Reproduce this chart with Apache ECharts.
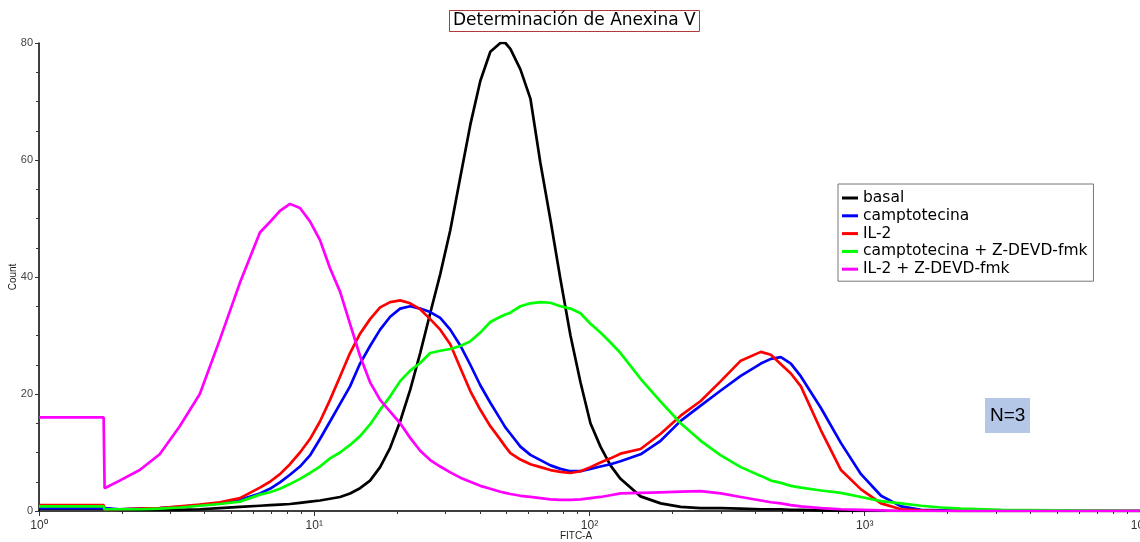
<!DOCTYPE html>
<html><head><meta charset="utf-8">
<script src="https://cdn.jsdelivr.net/npm/echarts@6/dist/echarts.min.js"></script>
<style>html,body{margin:0;padding:0;background:#fff}#c{width:1140px;height:542px}</style>
</head><body><div id="c"></div>
<script>
// FITC-A channel positions (shared sample grid)
const fitc = [1, 1.29, 1.717, 1.731, 1.963, 2.322, 2.745, 3.246, 3.839, 4.539, 5.368,
  6.347, 6.902, 7.505, 8.161, 8.874, 9.65, 10.49, 11.41, 12.41, 13.49,
  14.67, 15.95, 17.35, 18.87, 20.51, 22.31, 24.26, 26.38, 28.69, 31.2,
  33.92, 36.89, 40.11, 43.62, 47.44, 49.47, 51.59,
  56.1, 61.0, 66.32, 72.12, 78.42, 85.28, 92.73, 100.8, 109.6, 119.2, 129.6,
  153.3, 181.3, 214.4, 253.5, 299.9, 354.5, 419.3,
  456.0, 495.8, 539.0, 586.1,
  693.1, 819.7, 969.2, 1146, 1355, 1602, 1895, 2240, 3133, 10000];

const basal = [0.4, 0.4, 0.4, 0.2, 0.2, 0.2, 0.2, 0.2, 0.3, 0.5, 0.7,
  0.9, 1.0, 1.1, 1.2, 1.4, 1.6, 1.8, 2.1, 2.4, 3.0,
  3.9, 5.2, 7.5, 10.8, 15.3, 20.7, 27, 33.8, 40.5, 48,
  57, 66, 73.5, 78.5, 80, 80, 79,
  75.5, 70.5, 59.5, 49.8, 39.6, 30, 22, 15, 11, 7.8, 5.5,
  2.5, 1.3, 0.7, 0.5, 0.5, 0.4, 0.3,
  0.3, 0.3, 0.2, 0.2,
  0.1, 0, 0, 0, 0, 0, 0, 0, 0, 0];

const camptotecina = [0.5, 0.5, 0.5, 0.3, 0.3, 0.4, 0.5, 0.7, 1.0, 1.3, 1.9,
  3.0, 3.8, 4.9, 6.2, 7.6, 9.5, 12.3, 15.3, 18.3, 21.3,
  25.2, 28.2, 31, 33.2, 34.6, 35, 34.6, 34, 33, 31,
  28.3, 25, 21.5, 18.5, 15.7, 14.3, 13.2,
  11, 9.6, 8.7, 7.8, 7.2, 6.8, 6.8, 7.2, 7.6, 8.0, 8.5,
  9.7, 12.0, 15.4, 18, 20.6, 23.1, 25.2,
  26, 26.3, 25.2, 23,
  17.6, 11.6, 6.3, 2.6, 0.8, 0.2, 0.1, 0, 0, 0];

const il2 = [1.0, 1.0, 1.0, 0.3, 0.3, 0.4, 0.5, 0.8, 1.1, 1.5, 2.2,
  4.0, 5.0, 6.3, 8.0, 10.0, 12.3, 15.3, 19, 23, 27,
  30.3, 32.8, 34.8, 35.7, 36, 35.5, 34.5, 32.8, 31, 28.5,
  24.5, 20.5, 17.3, 14.5, 12.2, 11, 9.9,
  8.8, 8, 7.5, 7.0, 6.7, 6.5, 6.8, 7.5, 8.3, 9.0, 9.8,
  10.6, 13.2, 16.3, 18.8, 22.2, 25.7, 27.2,
  26.7, 25.1, 23.5, 21.3,
  13.8, 7, 3.7, 1.3, 0.3, 0.1, 0, 0, 0, 0];

const camptoZdevd = [0.8, 0.8, 0.8, 0.3, 0.3, 0.3, 0.4, 0.6, 0.9, 1.2, 1.6,
  2.8, 3.2, 3.8, 4.6, 5.5, 6.5, 7.6, 9.0, 10.0, 11.3,
  12.8, 14.8, 17.3, 19.6, 22.2, 24, 25.3, 27, 27.4, 27.7,
  28.2, 29, 30.5, 32.3, 33.2, 33.6, 33.9,
  35, 35.5, 35.7, 35.6, 35, 34.6, 33.8, 32, 30.5, 28.8, 27,
  22.6, 18.7, 15, 12, 9.5, 7.5, 6,
  5.2, 4.8, 4.3, 4.0,
  3.5, 3.1, 2.4, 1.7, 1.3, 0.9, 0.6, 0.4, 0.2, 0];

const il2Zdevd = [16, 16, 16, 3.9, 5.2, 7.0, 9.7, 14.5, 20, 29.3, 39,
  47.6, 49.4, 51.3, 52.5, 51.8, 49.5, 46.3, 41.5, 37.5, 32,
  26.5, 22, 19, 17, 15, 12.5, 10.3, 8.7, 7.6, 6.6,
  5.7, 5.0, 4.3, 3.8, 3.3, 3.1, 2.9,
  2.6, 2.4, 2.2, 2.0, 1.9, 1.9, 2.0, 2.2, 2.4, 2.7, 3.0,
  3.1, 3.2, 3.3, 3.4, 3.0, 2.4, 1.8,
  1.5, 1.3, 1.0, 0.8,
  0.5, 0.3, 0.2, 0.1, 0, 0, 0, 0, 0, 0];

const seriesNames = ['basal', 'camptotecina', 'IL-2', 'camptotecina + Z-DEVD-fmk', 'IL-2 + Z-DEVD-fmk'];
const seriesColors = ['#000000', '#0000ff', '#ff0000', '#00ff00', '#ff00ff'];
const seriesValues = [basal, camptotecina, il2, camptoZdevd, il2Zdevd];
const xMajorTicks = [1, 10, 100, 1000, 10000];
const xMinorTicks = [];
xMajorTicks.slice(0, 4).forEach(d => { for (let k = 2; k <= 9; k++) xMinorTicks.push(k * d); });
const supDigits = ['⁰', '¹', '²', '³', '⁴'];

const chart = echarts.init(document.getElementById('c'), null, {renderer: 'canvas'});
chart.setOption({
  animation: false,
  backgroundColor: '#fff',
  title: {
    text: 'Determinación de Anexina V',
    left: 449, top: 10,
    borderColor: '#b03a3a', borderWidth: 1,
    padding: [2, 4, 3, 4],
    textStyle: {fontFamily: 'DejaVu Sans', fontSize: 17, fontWeight: 'normal', color: '#000'}
  },
  legend: {
    orient: 'vertical', left: 838, top: 184,
    borderColor: '#777', borderWidth: 1,
    padding: [6, 6, 4, 4], itemGap: 1.8,
    itemWidth: 16, itemHeight: 3, icon: 'rect',
    textStyle: {fontFamily: 'DejaVu Sans', fontSize: 15.5, color: '#000'},
    data: seriesNames
  },
  grid: {left: 39, right: 0, top: 43, bottom: 31, containLabel: false, outerBoundsMode: 'none'},
  xAxis: [{
    type: 'log', logBase: 10, min: 1, max: 10000,
    name: 'FITC-A', nameLocation: 'middle', nameGap: 20, nameMoveOverlap: false,
    nameTextStyle: {fontFamily: 'Liberation Sans', fontSize: 10, color: '#222', padding: [0, 27, 0, 0]},
    axisLine: {lineStyle: {color: '#000', width: 1.5}},
    axisTick: {show: true, length: 5, lineStyle: {color: '#333'}, customValues: xMajorTicks},
    axisLabel: {
      customValues: xMajorTicks, hideOverlap: false,
      fontFamily: 'Liberation Sans', fontSize: 12, color: '#333', margin: 9,
      formatter: v => '10' + supDigits[Math.round(Math.log10(v))]
    },
    splitLine: {show: false}
  }, {
    type: 'log', logBase: 10, min: 1, max: 10000, position: 'bottom',
    axisLine: {show: false},
    axisTick: {show: true, length: 3, lineStyle: {color: '#333'}, customValues: xMinorTicks},
    axisLabel: {show: false},
    splitLine: {show: false}
  }],
  yAxis: {
    type: 'value', min: 0, max: 80, interval: 20,
    name: 'Count', nameLocation: 'middle', nameGap: 21, nameMoveOverlap: false,
    nameTextStyle: {fontFamily: 'Liberation Sans', fontSize: 10, color: '#222'},
    axisLine: {show: true, lineStyle: {color: '#000', width: 1.5}},
    axisTick: {show: true, length: 4, lineStyle: {color: '#333'}},
    minorTick: {show: true, splitNumber: 4, length: 3, lineStyle: {color: '#333'}},
    axisLabel: {fontFamily: 'Liberation Sans', fontSize: 11, color: '#444', margin: 6},
    splitLine: {show: false}
  },
  series: seriesNames.map((name, i) => ({
    name, type: 'line', xAxisIndex: 0, symbol: 'none',
    color: seriesColors[i],
    lineStyle: {color: seriesColors[i], width: 2.7},
    data: fitc.map((x, j) => [x, seriesValues[i][j]])
  })),
  graphic: [{
    type: 'rect', shape: {x: 985, y: 398, width: 45, height: 35},
    style: {fill: '#b4c7e7'}
  }, {
    type: 'text', x: 990, y: 416,
    style: {text: 'N=3', fontFamily: 'Liberation Sans', fontSize: 19, fill: '#000', verticalAlign: 'middle'}
  }]
});
</script>
</body></html>
